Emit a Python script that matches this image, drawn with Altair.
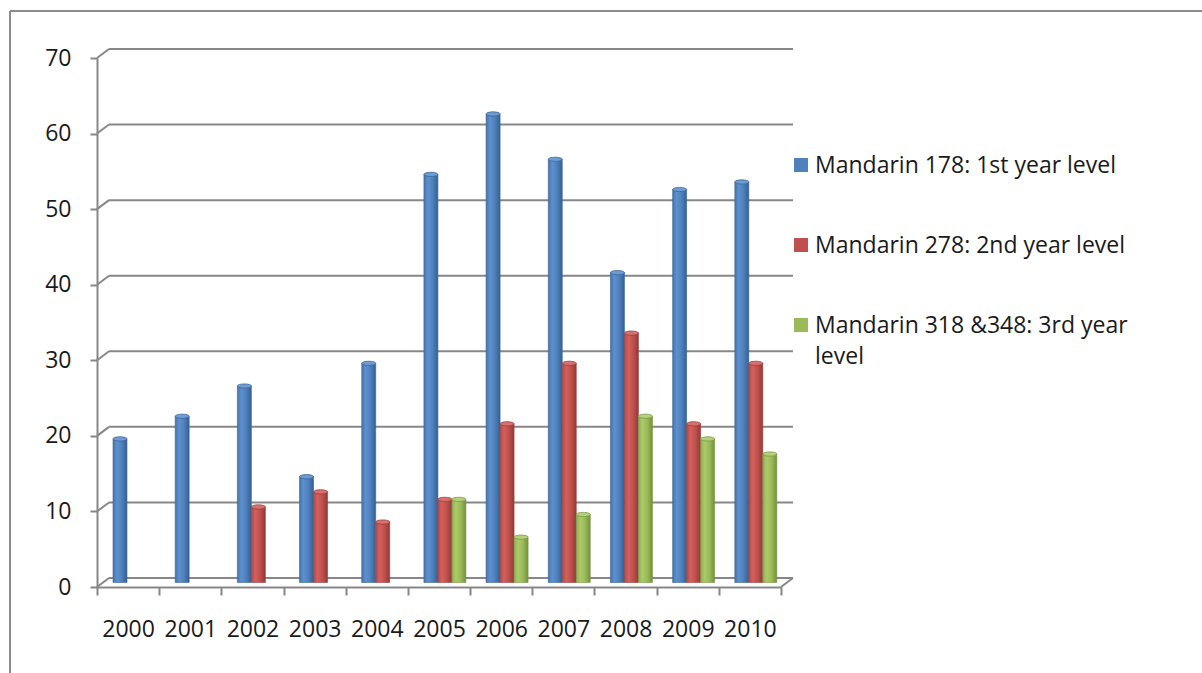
import altair as alt
import pandas as pd

# ---- data -------------------------------------------------------------
years = ["2000", "2001", "2002", "2003", "2004", "2005",
         "2006", "2007", "2008", "2009", "2010"]
series = [
    "Mandarin 178: 1st year level",
    "Mandarin 278: 2nd year level",
    "Mandarin 318 &348: 3rd year level",
]
first_year = [19, 22, 26, 14, 29, 54, 62, 56, 41, 52, 53]
second_year = [None, None, 10, 12, 8, 11, 21, 29, 33, 21, 29]
third_year = [None, None, None, None, None, 11, 6, 9, 22, 19, 17]
legend_labels = [
    "Mandarin 178: 1st year level",
    "Mandarin 278: 2nd year level",
    "Mandarin 318 &348: 3rd year\nlevel",
]
y_ticks = [0, 10, 20, 30, 40, 50, 60, 70]

rows = []
for name, vals in zip(series, [first_year, second_year, third_year]):
    for yr, v in zip(years, vals):
        if v is not None:
            rows.append({"year": yr, "series": name, "value": v})
df = pd.DataFrame(rows)
grid_df = pd.DataFrame({"v": y_ticks})
legend_df = pd.DataFrame({"series": series, "label": legend_labels})

# ---- styling ----------------------------------------------------------
W, H = 684, 529          # front plane of the plot
DX, DY = 12, 9           # depth of the 3-D box (back wall offset)
FONT = "Open Sans"
FS = 23
GRID = "#878787"
TEXT = "#1a1a1a"
LEGEND_X, LEGEND_TOP, LEGEND_STEP = 704, 107, 80


def cylinder(stops):
    return alt.LinearGradient(
        gradient="linear", x1=0, x2=1, y1=0, y2=0,
        stops=[alt.GradientStop(offset=o, color=c) for o, c in stops],
    )


# gradient body, rim colour, cap fill, flat colour
shades = {
    series[0]: (cylinder([(0, "#4474ad"), (0.28, "#5e90cf"), (0.62, "#4f81bd"), (1, "#36608f")]),
                "#3b6597", "#6f9bd3", "#4f81bd"),
    series[1]: (cylinder([(0, "#b4484a"), (0.28, "#d4605d"), (0.62, "#c0504d"), (1, "#8f3b39")]),
                "#983f3d", "#d8716e", "#c0504d"),
    series[2]: (cylinder([(0, "#8eae51"), (0.28, "#abcb6a"), (0.62, "#9bbb59"), (1, "#748f40")]),
                "#7a9644", "#b3d07a", "#9bbb59"),
}

y_scale = alt.Scale(domain=[0, 70], nice=False, zero=True)
y_axis = alt.Axis(
    title=None, values=y_ticks, tickSize=7, tickWidth=2, tickColor=GRID,
    domainColor=GRID, domainWidth=2, labelPadding=19, grid=False,
    labelFont=FONT, labelFontSize=FS, labelColor=TEXT,
)
x_scale = alt.Scale(domain=years, paddingInner=0, paddingOuter=0)
x_axis = alt.Axis(
    title=None, labelAngle=0, tickBand="extent", tickSize=8, tickWidth=2,
    tickColor=GRID, domainColor=GRID, domainWidth=2, labelPadding=23,
    labelFont=FONT, labelFontSize=FS, labelColor=TEXT, grid=False,
)
# three cylinders of 14 px, set slightly right of each category centre
offset_scale = alt.Scale(domain=series, range=[16, 58], paddingInner=0, paddingOuter=0)

# back-wall gridlines
grid = alt.Chart(grid_df).mark_rule(color=GRID, strokeWidth=2, yOffset=-DY).encode(
    y=alt.Y("v:Q", scale=y_scale, axis=y_axis),
    x=alt.value(DX), x2=alt.value(W + DX),
)
# side-wall slants joining the front axis to the back wall
slants = alt.Chart(grid_df).mark_rule(color=GRID, strokeWidth=2, y2Offset=-DY).encode(
    y=alt.Y("v:Q", scale=y_scale, axis=y_axis), y2="v:Q",
    x=alt.value(0), x2=alt.value(DX),
)
floor_edge = alt.Chart(grid_df).transform_filter(alt.datum.v == 0).mark_rule(
    color=GRID, strokeWidth=2, y2Offset=-DY).encode(
    y=alt.Y("v:Q", scale=y_scale, axis=y_axis), y2="v:Q",
    x=alt.value(W), x2=alt.value(W + DX),
)

layers = [grid, slants, floor_edge]
for name in series:
    grad, edge, cap_fill, _ = shades[name]
    base = alt.Chart(df).transform_filter(alt.datum.series == name)
    enc = dict(
        x=alt.X("year:N", sort=years, scale=x_scale, axis=x_axis),
        xOffset=alt.XOffset("series:N", sort=series, scale=offset_scale),
        y=alt.Y("value:Q", scale=y_scale, axis=y_axis),
    )
    bars = base.mark_bar(fill=grad, stroke=edge, strokeWidth=0.6,
                         yOffset=-4.5, y2Offset=-4.5).encode(**enc)
    caps = base.mark_point(
        shape="M-1,0 A1,0.3 0 1,0 1,0 A1,0.3 0 1,0 -1,0 Z",
        size=196, filled=True, fill=cap_fill, stroke=edge, strokeWidth=0.8,
        opacity=1, yOffset=-4.5,
    ).encode(**enc)
    layers += [bars, caps]

# legend at the right
for i, name in enumerate(series):
    row = alt.Chart(legend_df).transform_filter(alt.datum.series == name)
    cy = LEGEND_TOP + i * LEGEND_STEP
    layers.append(row.mark_square(size=196, opacity=1, color=shades[name][3]).encode(
        x=alt.value(LEGEND_X), y=alt.value(cy)))
    layers.append(row.mark_text(
        align="left", baseline="top", font=FONT, fontSize=FS,
        color=TEXT, lineBreak="\n", lineHeight=31,
    ).encode(x=alt.value(LEGEND_X + 14), y=alt.value(cy - 10), text="label:N"))

# outer frame (top and left edges)
frame = alt.Chart(grid_df).transform_filter(alt.datum.v == 0)
layers.append(frame.mark_rule(color="#8c8c8c", strokeWidth=2).encode(
    x=alt.value(-87), x2=alt.value(1110), y=alt.value(-47)))
layers.append(frame.mark_rule(color="#8c8c8c", strokeWidth=2).encode(
    x=alt.value(-87), y=alt.value(-47), y2=alt.value(620)))

chart = alt.layer(*layers).properties(
    width=W, height=H,
    autosize=alt.AutoSizeParams(type="none"),
    padding={"left": 97, "top": 58, "right": 421, "bottom": 86},
    background="white",
).configure_view(stroke=None)

chart.save("out.html", embed_options={"renderer": "svg", "actions": False})
